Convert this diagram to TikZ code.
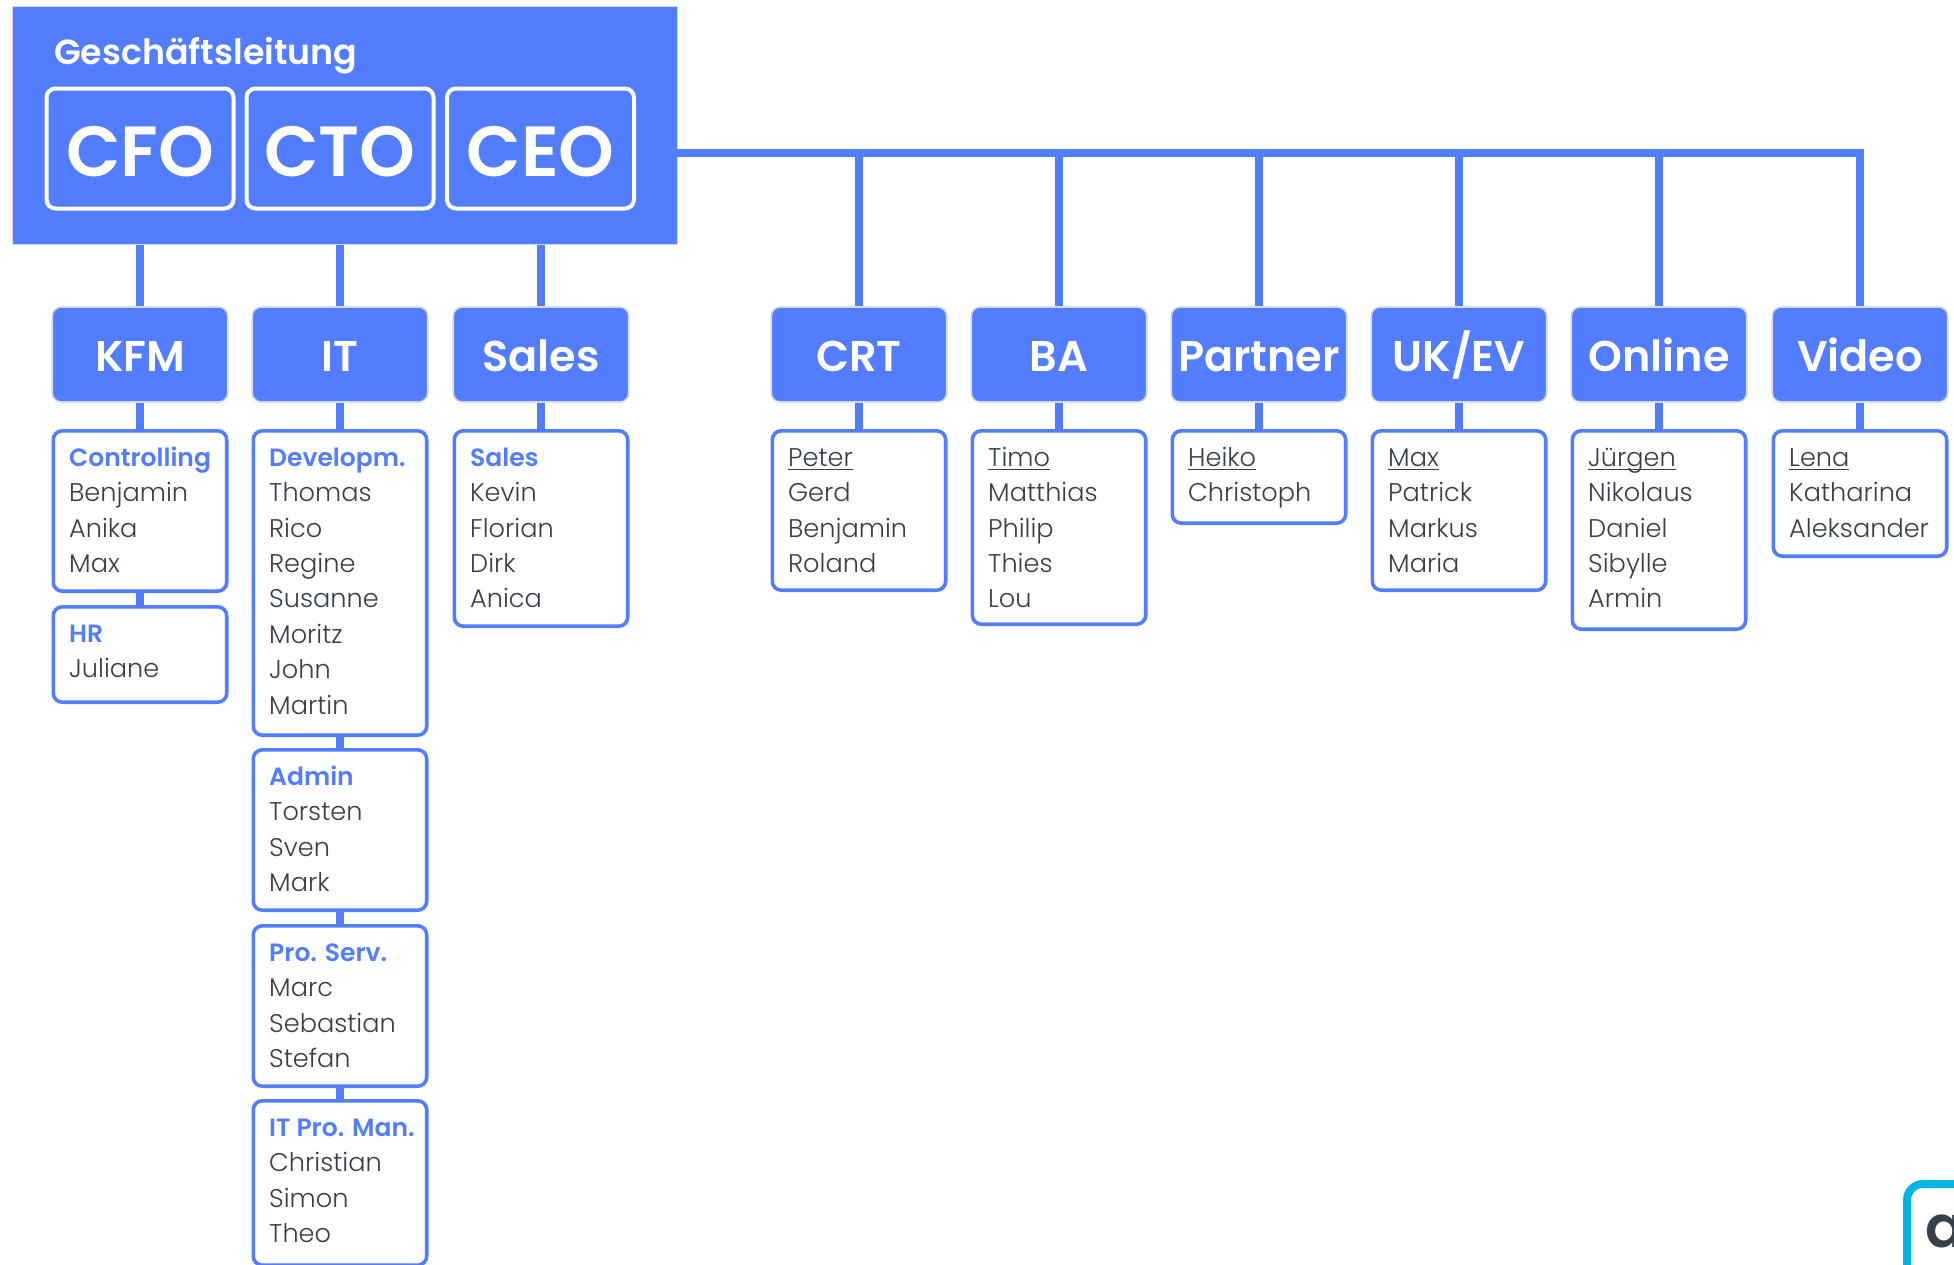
\documentclass[tikz,border=0pt]{standalone}
\usepackage{fontspec}
\setmainfont{Poppins}
\newfontfamily\namefont{Poppins Light}
\newfontfamily\headfont{Poppins SemiBold}
\definecolor{brand}{HTML}{537DFF}
\definecolor{ink}{HTML}{36404A}
\definecolor{edge}{HTML}{D4DAE6}
\definecolor{cyanlogo}{HTML}{00B5E6}
\newcommand\hd[1]{{\headfont\fontsize{25}{35.4}\selectfont\color{brand}#1}}
\newcommand\ul[1]{\setbox0\hbox{#1}\rlap{\copy0}\raisebox{-4pt}{\rule{\wd0}{1.6pt}}}
% name, centre x, top, bottom, lines
\newcommand\member[5]{%
  \pgfmathsetmacro\mh{#4-#3-1.6}\pgfmathsetmacro\my{(#3+#4)/2}%
  \node[memberbox,minimum height=\mh pt] (#1) at (#2,\my) {};
  \node[membertext] (#1-t) at ([xshift=-71pt,yshift=-17pt]#1.north) {\rule{0pt}{20pt}#5};
}
\tikzset{x=1pt,y=-1pt,
  memberbox/.style={draw=brand,fill=white,line width=3.6pt,rounded corners=9pt,minimum width=173.4pt,inner sep=0pt},
  membertext/.style={anchor=north west,inner sep=0pt,align=left,text=ink,font={\fontsize{25.6}{35.4}\namefont}},
  deptbox/.style={draw=edge,fill=brand,line width=1.6pt,rounded corners=9pt,minimum width=175.5pt,minimum height=95pt,inner sep=0pt,text=white,text height=33pt,text depth=0pt,font={\fontsize{43}{43}\headfont}},
  cbox/.style={draw=white,fill=brand,line width=4pt,rounded corners=9pt,minimum width=187pt,minimum height=120pt,inner sep=0pt,text=white,text height=55pt,text depth=0pt,font={\fontsize{71}{71}\headfont}},
  link/.style={draw=brand,line width=8.5pt}
}
\begin{document}
\begin{tikzpicture}
\useasboundingbox (0,0) rectangle (1954,1264);
\clip (0,0) rectangle (1954,1264);
\node[draw=edge,line width=.6pt,fill=brand,minimum width=665pt,minimum height=238pt,inner sep=0pt] (top) at (344.5,125.5) {};
\node[anchor=base west,inner sep=0pt,text=white,font={\fontsize{34.8}{34.8}\headfont}] (gl) at (54,64) {Geschäftsleitung};
\node[cbox] (cfo) at (140,148.5) {CFO};
\node[cbox] (cto) at (340,148.5) {CTO};
\node[cbox] (ceo) at (540.5,148.5) {CEO};
\foreach \n/\t/\x in {kfm/KFM/140,it/IT/340,sales/Sales/541,crt/CRT/859,ba/BA/1059,partner/Partner/1259,ukev/UK\slash EV/1459,online/Online/1659,video/Video/1860}
  \node[deptbox] (\n) at (\x,354.5) {\t};
\member{controlling}{140}{430}{592}{\hd{Controlling}\\Benjamin\\Anika\\Max}
\member{hr}{140}{606}{703}{\hd{HR}\\Juliane}
\member{dev}{340}{430}{736}{\hd{Developm.}\\Thomas\\Rico\\Regine\\Susanne\\Moritz\\John\\Martin}
\member{admin}{340}{749}{911}{\hd{Admin}\\Torsten\\Sven\\Mark}
\member{proserv}{340}{925}{1087}{\hd{Pro. Serv.}\\Marc\\Sebastian\\Stefan}
\member{itpro}{340}{1100}{1266}{\hd{IT Pro. Man.}\\Christian\\Simon\\Theo}
\member{salesm}{541}{430}{627}{\hd{Sales}\\Kevin\\Florian\\Dirk\\Anica}
\member{crtm}{859}{430}{591}{\ul{Peter}\\Gerd\\Benjamin\\Roland}
\member{bam}{1059}{430}{625}{\ul{Timo}\\Matthias\\Philip\\Thies\\Lou}
\member{partnerm}{1259}{430}{524}{\ul{Heiko}\\Christoph}
\member{ukevm}{1459}{430}{591}{\ul{Max}\\Patrick\\Markus\\Maria}
\member{onlinem}{1659}{430}{630}{\ul{Jürgen}\\Nikolaus\\Daniel\\Sibylle\\Armin}
\member{videom}{1860}{430}{557}{\ul{Lena}\\Katharina\\Aleksander}
% connectors
\foreach \a/\b in {kfm/controlling,controlling/hr,it/dev,dev/admin,admin/proserv,proserv/itpro,sales/salesm,crt/crtm,ba/bam,partner/partnerm,ukev/ukevm,online/onlinem,video/videom}
  \draw[link] (\a.south) -- (\b.north);
\draw[link] (cfo.south |- top.south) -- (kfm.north);
\draw[link] (cto.south |- top.south) -- (it.north);
\draw[link] (sales.north |- top.south) -- (sales.north);
\coordinate (bus) at (677,153);
\draw[link] (bus) -- (bus -| video.north) -- (video.north);
\foreach \n in {crt,ba,partner,ukev,online}
  \draw[link] (\n.north |- bus) -- (\n.north);
% logo fragment
\node[draw=cyanlogo,line width=8pt,rounded corners=16pt,minimum width=120pt,minimum height=140pt,inner sep=0pt] (logo) at (1967,1254) {};
\node[anchor=base west,inner sep=0pt,text=ink,font={\fontsize{58}{58}\headfont}] (logoa) at (1925,1247) {a};
\end{tikzpicture}
\end{document}
